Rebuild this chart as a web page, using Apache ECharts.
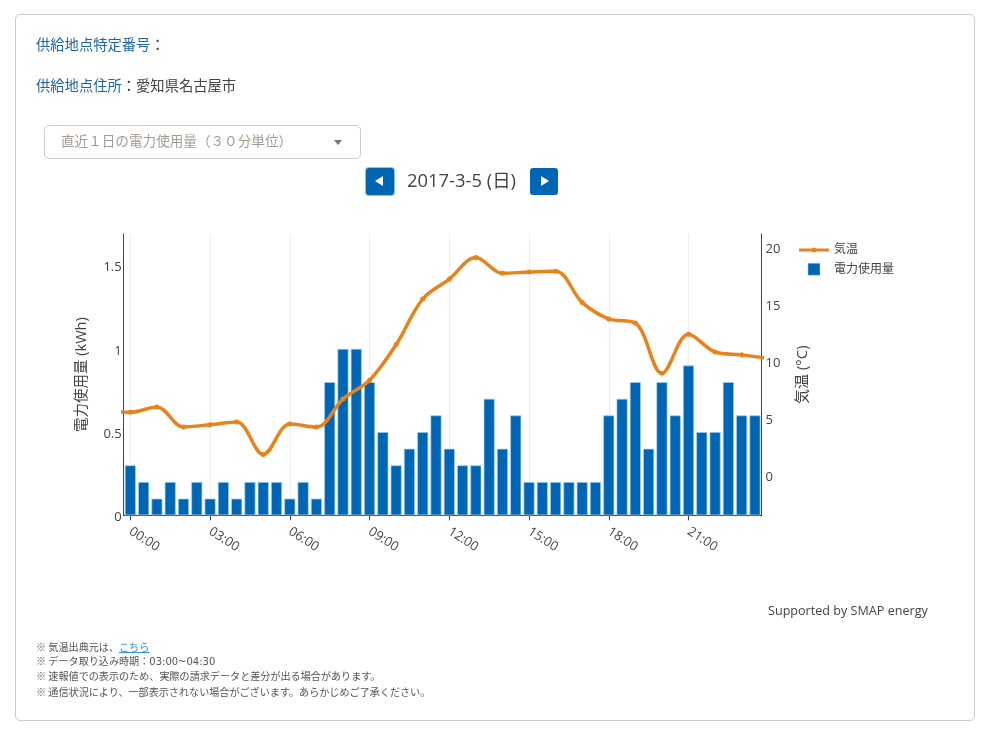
<!DOCTYPE html>
<html lang="ja">
<head>
<meta charset="UTF-8">
<title>電力使用量</title>
<style>
html, body { margin: 0; padding: 0; background: #fff; }
body { width: 985px; height: 735px; position: relative; overflow: hidden; font-family: "Noto Sans CJK JP", sans-serif; color: #444; }
.card { position: absolute; left: 15px; top: 14px; width: 958px; height: 705px; border: 1px solid #ccc; border-radius: 5px; box-sizing: content-box; }
#chart { position: absolute; left: 0; top: 0; width: 985px; height: 735px; }
.abs { position: absolute; white-space: nowrap; line-height: 1; }
.label { color: #1f66a3; }
.select { position: absolute; left: 44px; top: 125px; width: 315px; height: 32px; border: 1px solid #ccc; border-radius: 5px; }
.select span { position: absolute; left: 16px; top: 8px; font-size: 13.6px; line-height: 1; color: #a39b92; white-space: nowrap; }
.select i { position: absolute; left: 289px; top: 14px; width: 0; height: 0; border-left: 4px solid transparent; border-right: 4px solid transparent; border-top: 5px solid #777; }
.btn { position: absolute; top: 168px; width: 28px; height: 27px; background: #0066b3; border-radius: 3px; }
.btn i { position: absolute; top: 8px; width: 0; height: 0; border-top: 5px solid transparent; border-bottom: 5px solid transparent; }
.prev { box-shadow: 0 0 0 1px #8fc0e6; }
.prev i { left: 9px; border-right: 8px solid #fff; }
.next i { left: 11px; border-left: 8px solid #fff; }
.note { left: 36px; font-size: 10.1px; color: #555; }
.note a { color: #2f93d8; text-decoration: underline; }
.note b { font-weight: normal; font-family: "DejaVu Sans", sans-serif; font-size: 10px; }
</style>
<script src="https://cdn.jsdelivr.net/npm/echarts@6/dist/echarts.min.js"></script>
</head>
<body>
<div class="card"></div>
<div id="chart"></div>
<div class="abs" style="left:36px;top:37px;font-size:14.3px;"><span class="label">供給地点特定番号</span>：</div>
<div class="abs" style="left:36px;top:78px;font-size:14.3px;"><span class="label">供給地点住所</span>：愛知県名古屋市</div>
<div class="select"><span>直近１日の電力使用量（３０分単位）</span><i></i></div>
<div class="btn prev" style="left:366px;"><i></i></div>
<div class="abs" style="left:407px;top:171px;font-size:18.4px;font-family:'Open Sans','Noto Sans CJK JP',sans-serif;">2017-3-5 (日)</div>
<div class="btn next" style="left:530px;"><i></i></div>
<div class="abs" style="left:768px;top:605px;font-size:12.6px;font-family:'Open Sans',sans-serif;">Supported by SMAP energy</div>
<div class="abs note" style="top:642px;">※ 気温出典元は、<a href="#">こちら</a></div>
<div class="abs note" style="top:656px;">※ データ取り込み時期：<b>03:00~04:30</b></div>
<div class="abs note" style="top:671px;">※ 速報値での表示のため、実際の請求データと差分が出る場合があります。</div>
<div class="abs note" style="top:687px;">※ 通信状況により、一部表示されない場合がございます。あらかじめご了承ください。</div>

<script>
// 30分単位の電力使用量 (kWh) 00:00 から順に
var usage = [0.3, 0.2, 0.1, 0.2, 0.1, 0.2, 0.1, 0.2, 0.1, 0.2, 0.2, 0.2, 0.1, 0.2, 0.1, 0.8,
             1, 1, 0.8, 0.5, 0.3, 0.4, 0.5, 0.6, 0.4, 0.3, 0.3, 0.7, 0.4, 0.6, 0.2, 0.2,
             0.2, 0.2, 0.2, 0.2, 0.6, 0.7, 0.8, 0.4, 0.8, 0.6, 0.9, 0.5, 0.5, 0.8, 0.6, 0.6];
// 1時間ごとの気温 (°C) 前日23時と翌日0時を両端に含む
var tempHours = [-1, 0, 1, 2, 3, 4, 5, 6, 7, 8, 9, 10, 11, 12, 13, 14, 15, 16, 17, 18, 19, 20, 21, 22, 23, 24];
var temps = [5.75, 5.56, 6.03, 4.27, 4.47, 4.71, 1.87, 4.53, 4.27, 6.73, 8.37, 11.5, 15.5, 17.25,
             19.15, 17.75, 17.87, 17.93, 15.2, 13.75, 13.4, 8.98, 12.4, 10.85, 10.6, 10.3];
var hourTicks = [0, 3, 6, 9, 12, 15, 18, 21];
var usageTicks = [0, 0.5, 1, 1.5];
var tempTicks = [0, 5, 10, 15, 20];

var usageData = [];
for (var i = 0; i < usage.length; i++) {
    usageData.push([i / 2, usage[i]]);
}
var tempData = [];
for (var j = 0; j < temps.length; j++) {
    tempData.push([tempHours[j], temps[j]]);
}

// 目盛ラベルを少し下げるための rich テキスト
function tickLabel(v) {
    return '{v|' + v + '}';
}
var tickRich = { v: { color: '#444', fontSize: 13, padding: [4, 0, 0, 0] } };

var fontFamily = '"Open Sans","Noto Sans CJK JP",sans-serif';
var myChart = echarts.init(document.getElementById('chart'));
var option = {
    animation: false,
    textStyle: { fontFamily: fontFamily },
    grid: { left: 123.7, right: 223.4, top: 234, bottom: 219.7 },
    legend: {
        left: 799,
        top: 244,
        padding: 0,
        orient: 'vertical',
        itemWidth: 30,
        itemHeight: 12,
        itemGap: 7,
        textStyle: { color: '#444', fontSize: 12, fontFamily: fontFamily },
        data: [
            {
                name: '気温',
                icon: 'path://M0 4.5h30v3h-30z M12.5 6a2.5 2.5 0 1 1 5 0a2.5 2.5 0 1 1 -5 0z',
                itemStyle: { color: '#e8821a', borderWidth: 0 }
            },
            {
                name: '電力使用量',
                icon: 'path://M0 0h12v12h-12z',
                itemStyle: { color: '#0066b3', borderColor: '#a9d3f0', borderWidth: 0.5 }
            }
        ]
    },
    xAxis: {
        type: 'value',
        min: -0.25,
        max: 23.75,
        axisLine: { show: true, onZero: false, lineStyle: { color: '#444', width: 1 } },
        axisTick: { show: true, length: 5, customValues: hourTicks, lineStyle: { color: '#444' } },
        splitLine: { show: true, lineStyle: { color: '#eee', width: 1 } },
        axisLabel: {
            customValues: hourTicks,
            rotate: -33,
            color: '#444',
            fontSize: 13,
            margin: 15,
            formatter: function (v) {
                return (v < 10 ? '0' : '') + v + ':00';
            }
        }
    },
    yAxis: [
        {
            type: 'value',
            min: 0,
            max: 1.69,
            name: '電力使用量 (kWh)',
            nameLocation: 'middle',
            nameRotate: 90,
            nameGap: 35,
            nameTextStyle: { color: '#444', fontSize: 14.5 },
            axisLine: { show: true, onZero: false, lineStyle: { color: '#444', width: 1 } },
            axisTick: { show: false, customValues: usageTicks },
            splitLine: { show: false },
            axisLabel: { customValues: usageTicks, margin: 2, formatter: tickLabel, rich: tickRich }
        },
        {
            type: 'value',
            min: -3.47,
            max: 21.2,
            position: 'right',
            name: '気温 (°C)',
            nameLocation: 'middle',
            nameRotate: 90,
            nameGap: 34,
            nameTextStyle: { color: '#444', fontSize: 15 },
            axisLine: { show: true, onZero: false, lineStyle: { color: '#444', width: 1 } },
            axisTick: { show: false, customValues: tempTicks },
            splitLine: { show: false },
            axisLabel: { customValues: tempTicks, margin: 4, formatter: tickLabel, rich: tickRich }
        }
    ],
    series: [
        {
            name: '電力使用量',
            type: 'bar',
            yAxisIndex: 0,
            barWidth: 11,
            itemStyle: { color: '#0066b3', borderColor: '#9fcdee', borderWidth: 0.7 },
            data: usageData,
            z: 2
        },
        {
            name: '気温',
            type: 'line',
            yAxisIndex: 1,
            smooth: 0.35,
            symbol: 'circle',
            symbolSize: 5,
            showAllSymbol: true,
            clip: true,
            lineStyle: { color: '#e8821a', width: 3.5 },
            itemStyle: { color: '#e8821a' },
            data: tempData,
            z: 3
        }
    ]
};
myChart.setOption(option);
</script>
</body>
</html>
